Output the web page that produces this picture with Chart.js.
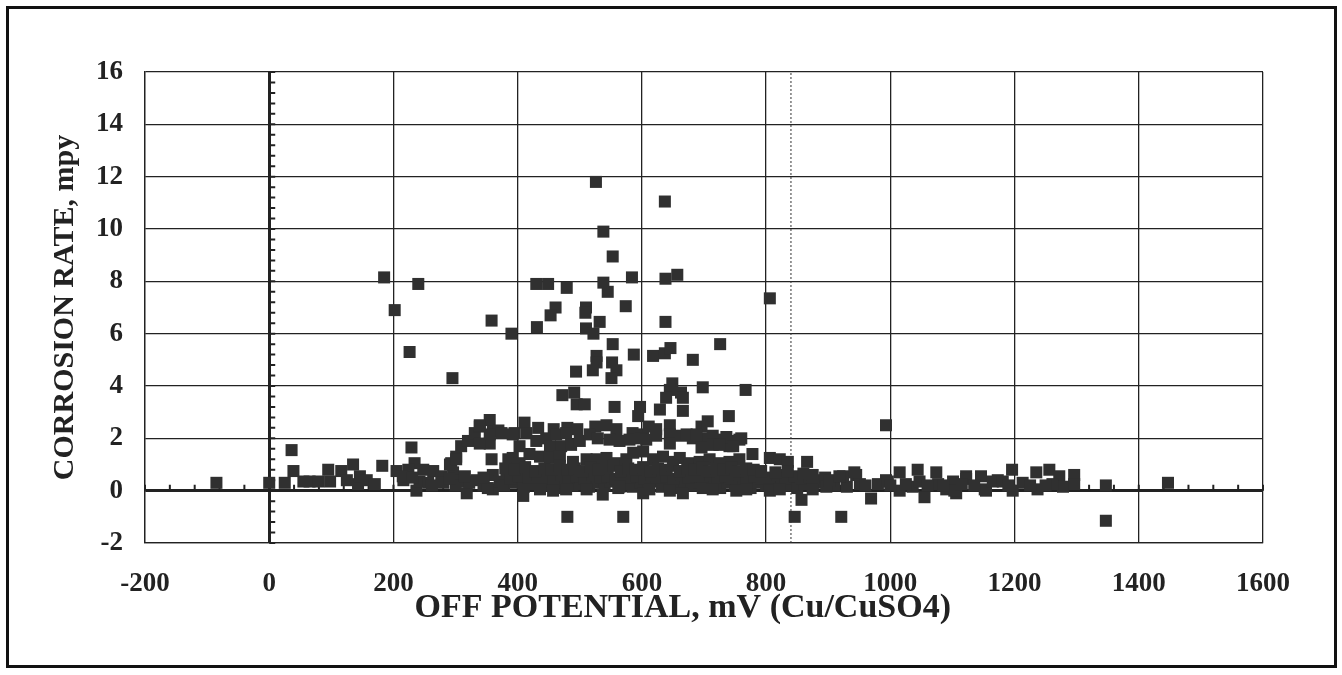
<!DOCTYPE html>
<html>
<head>
<meta charset="utf-8">
<title>Corrosion rate vs off potential</title>
<script src="https://cdn.jsdelivr.net/npm/chart.js@4.4.1/dist/chart.umd.min.js"></script>
<style>
  html, body { margin: 0; padding: 0; background: #fff; }
  #wrap { position: relative; width: 1342px; height: 675px; }
  #frame { position: absolute; left: 6px; top: 6px; width: 1325px; height: 656px; border: 3px solid #111; pointer-events: none; }
</style>
</head>
<body>
<div id="wrap">
  <canvas id="myChart"></canvas>
  <div id="frame"></div>
</div>
<script>
"use strict";

// off potential, mV (Cu/CuSO4) -- one line here matches one line in corrosionRate
const offPotential = [
  -85, 0, 25, 36, 39, 55, 65, 79, 95, 98,
  116, 125, 135, 143, 146, 157, 170, 182,
  // scattered high readings
  185, 202, 226, 240, 295, 358, 390, 526, 637, 538,
  553, 430, 449, 479, 538, 545, 584, 638, 657, 806,
  461, 453, 431, 510, 509, 532, 510, 522, 574, 638,
  553, 587, 618, 637, 646, 682, 726, 527, 527, 521,
  552, 559, 551, 494, 649, 645, 663, 698, 767, 472,
  491, 495, 508, 556, 597, 594, 629, 639, 666, 666,
  740, 993,
  // negative readings
  480, 570, 846, 921, 1347, 857, 969, 1055, 409, 318,
  // 200 - 400 mV
  205, 229, 216, 234, 237, 224, 248, 264, 277, 242,
  256, 293, 301, 309, 320, 331, 339, 355, 360, 369,
  355, 358, 385, 296, 307, 318, 334, 360, 360, 382,
  371, 339, 291, 301, 355, 374, 395, 339,
  // 2.2 - 2.8 mpy
  411, 414, 433, 458, 480, 496, 525, 543, 559, 585,
  602, 611, 623, 645, 696, 706,
  // 1.5 - 2.2 mpy
  392, 403, 430, 446, 462, 478, 452, 470, 486, 500,
  516, 529, 548, 564, 580, 597, 607, 623, 645, 645,
  663, 682, 698, 714, 730, 746, 760, 696, 714, 741,
  672, 688, 736, 757, 725, 747,
  // 1.0 - 1.5 mpy
  392, 403, 419, 436, 452, 468, 489, 511, 527, 543,
  559, 575, 586, 602, 618, 634, 650, 661, 677, 693,
  709, 725, 741, 757, 778, 806, 822, 835, 866,
  // main band, low
  262, 280, 300, 322, 345, 352, 378, 395, 410, 425,
  440, 450, 465, 475, 488, 500, 515, 528, 540, 550,
  562, 575, 585, 598, 610, 620, 632, 645, 656, 668,
  680, 692, 703, 715, 726, 738, 750, 762, 775, 787,
  800, 812, 825, 838, 850, 862, 875, 888, 910, 930,
  // main band, middle
  215, 230, 290, 315, 345, 388, 402, 418, 432, 446,
  458, 470, 482, 495, 507, 520, 533, 545, 557, 568,
  580, 592, 604, 616, 628, 640, 651, 663, 675, 687,
  698, 710, 722, 734, 745, 757, 769, 781, 793, 805,
  818, 831, 845, 858, 870, 885, 895,
  // main band, high
  380, 395, 412, 428, 443, 455, 468, 480, 492, 505,
  518, 530, 542, 555, 566, 578, 590, 602, 614, 626,
  638, 650, 661, 673, 685, 697, 708, 720, 732, 744,
  756, 768, 780, 792, 815, 835, 860,
  // around zero
  436, 457, 478, 511, 537, 564, 602, 612, 645, 666,
  698, 714, 752, 768, 806, 822, 875, 897,
  // above 870 mV
  875, 902, 924, 945, 993, 1015, 1044, 1074, 1015, 1036,
  1090, 1106, 1122, 1146, 1154, 1173, 1196, 1197, 1235, 1256,
  1272, 1237, 1278, 1296, 1296, 918, 942, 951, 980, 996,
  1047, 1077, 1101, 1103, 1122, 1152, 1165, 1181, 1213, 1261,
  960, 1000, 1025, 1060, 1085, 1115, 1135, 1190, 1225, 1250,
  1347, 1447
];

// corrosion rate, mpy
const corrosionRate = [
  0.3, 0.3, 0.3, 1.55, 0.75, 0.35, 0.35, 0.35, 0.8, 0.35,
  0.75, 0.4, 1.0, 0.25, 0.55, 0.4, 0.25, 0.95,
  8.15, 6.9, 5.3, 7.9, 4.3, 6.5, 6.0, 11.8, 11.05, 9.9,
  8.95, 7.9, 7.9, 7.75, 7.95, 7.6, 8.15, 8.1, 8.25, 7.35,
  7.0, 6.7, 6.25, 7.0, 6.8, 6.45, 6.2, 6.0, 7.05, 6.45,
  5.6, 5.2, 5.15, 5.25, 5.45, 5.0, 5.6, 5.15, 4.9, 4.6,
  4.9, 4.6, 4.3, 4.55, 4.1, 3.85, 3.75, 3.95, 3.85, 3.65,
  3.75, 3.3, 3.3, 3.2, 3.2, 2.85, 3.1, 3.55, 3.55, 3.05,
  2.85, 2.5,
  -1.0, -1.0, -1.0, -1.0, -1.15, -0.35, -0.3, -0.25, -0.2, -0.1,
  0.75, 1.65, 0.4, 1.05, 0.0, 0.8, 0.8, 0.75, 0.55, 0.35,
  0.3, 1.05, 1.3, 1.7, 1.9, 2.2, 2.45, 2.7, 2.25, 2.3,
  1.8, 1.2, 1.2, 0.7, 0.4, 0.35, 0.4, 0.05, 0.6, 0.6,
  0.35, 1.8, 1.0, 1.2, 2.15, 2.2, 2.2, 2.5,
  2.6, 2.2, 2.4, 2.35, 2.4, 2.35, 2.45, 2.5, 2.35, 2.2,
  2.15, 2.45, 2.35, 2.5, 2.45, 2.65,
  2.15, 1.7, 1.9, 2.0, 2.15, 2.2, 1.7, 1.7, 1.75, 1.9,
  2.15, 2.0, 1.95, 1.9, 1.95, 2.0, 1.95, 2.1, 2.15, 1.8,
  2.1, 2.0, 2.0, 2.1, 1.95, 1.9, 2.0, 1.65, 1.75, 1.7,
  2.15, 2.15, 2.05, 1.95, 1.75, 1.7,
  1.25, 1.05, 1.4, 1.3, 1.25, 1.3, 1.1, 1.2, 1.2, 1.25,
  1.05, 1.2, 1.45, 1.5, 1.2, 1.3, 1.1, 1.25, 1.05, 1.1,
  1.2, 1.05, 1.1, 1.2, 1.4, 1.25, 1.2, 1.1, 1.1,
  0.2, 0.3, 0.2, 0.3, 0.2, 0.1, 0.2, 0.3, 0.15, 0.25,
  0.2, 0.35, 0.1, 0.3, 0.2, 0.25, 0.15, 0.3, 0.2, 0.35,
  0.1, 0.25, 0.15, 0.3, 0.2, 0.35, 0.15, 0.25, 0.1, 0.3,
  0.2, 0.3, 0.15, 0.25, 0.1, 0.3, 0.2, 0.25, 0.1, 0.3,
  0.2, 0.15, 0.3, 0.2, 0.1, 0.25, 0.2, 0.3, 0.2, 0.15,
  0.55, 0.5, 0.45, 0.55, 0.5, 0.45, 0.55, 0.5, 0.6, 0.5,
  0.45, 0.6, 0.5, 0.55, 0.45, 0.6, 0.5, 0.55, 0.45, 0.6,
  0.5, 0.55, 0.45, 0.6, 0.5, 0.55, 0.45, 0.6, 0.5, 0.55,
  0.45, 0.6, 0.5, 0.55, 0.45, 0.6, 0.5, 0.55, 0.45, 0.5,
  0.6, 0.45, 0.55, 0.45, 0.5, 0.4, 0.5,
  0.85, 0.8, 0.9, 0.75, 0.85, 0.8, 0.95, 0.8, 0.85, 0.75,
  0.9, 0.8, 0.85, 0.95, 0.75, 0.85, 0.8, 0.9, 0.75, 0.85,
  0.8, 0.95, 0.75, 0.85, 0.8, 0.9, 0.75, 0.85, 0.8, 0.9,
  0.75, 0.85, 0.8, 0.75, 0.7, 0.75, 0.65,
  0.05, 0.0, 0.05, 0.05, -0.15, 0.15, -0.1, 0.05, 0.0, -0.1,
  0.1, 0.05, 0.0, 0.05, 0.0, 0.05, 0.05, 0.15,
  0.6, 0.4, 0.55, 0.6, 0.4, 0.7, 0.8, 0.7, 0.0, 0.15,
  0.05, -0.1, 0.55, 0.55, 0.0, 0.4, 0.8, 0.0, 0.7, 0.8,
  0.55, 0.05, 0.15, 0.6, 0.25, 0.55, 0.7, 0.25, 0.25, 0.35,
  0.35, 0.25, 0.35, 0.0, 0.45, 0.05, 0.35, 0.35, 0.3, 0.25,
  0.2, 0.2, 0.25, 0.2, 0.2, 0.25, 0.2, 0.2, 0.2, 0.2,
  0.2, 0.3
];

// axes
const xMin = -200, xMax = 1600, xStep = 200, xMinorStep = 40;
const yMin = -2, yMax = 16, yStep = 2, yMinorStep = 0.4;
const criterionPotential = 840; // dotted line

const xTitle = "OFF POTENTIAL, mV (Cu/CuSO4)";
const yTitle = "CORROSION RATE, mpy";

const ink = "#222";
const serif = "'Liberation Serif', 'Times New Roman', serif";

window.addEventListener("DOMContentLoaded", makeChart);

// little tick marks along the bold zero lines
const zeroAxisTicks = {
  id: "zeroAxisTicks",
  beforeDatasetsDraw(chart) {
    const ctx = chart.ctx;
    const x = chart.scales.x;
    const y = chart.scales.y;
    const x0 = x.getPixelForValue(0);
    const y0 = y.getPixelForValue(0);
    ctx.save();
    ctx.strokeStyle = ink;
    ctx.lineWidth = 2;
    ctx.beginPath();
    for (let v = xMin; v <= xMax; v += xMinorStep) {
      let px = x.getPixelForValue(v);
      ctx.moveTo(px, y0);
      ctx.lineTo(px, y0 - 6);
    }
    for (let i = 0; yMin + i * yMinorStep <= yMax + 1e-9; i++) {
      let py = y.getPixelForValue(yMin + i * yMinorStep);
      ctx.moveTo(x0, py);
      ctx.lineTo(x0 + 6, py);
    }
    ctx.stroke();
    ctx.restore();
  }
};

function plainNumber(value) {
  return String(value);
}

function makeChart() {
  let points = offPotential.map((v, i) => ({ x: v, y: corrosionRate[i] }));

  let ctx = document.getElementById("myChart");

  let myChart = new Chart(ctx, {
    type: "scatter",
    data: {
      datasets: [
        {
          label: "Corrosion rate",
          data: points,
          pointStyle: "rect",
          pointRadius: 8.5,
          pointHoverRadius: 8.5,
          backgroundColor: "#303030",
          borderWidth: 0
        },
        {
          type: "line",
          label: "criterion",
          data: [
            { x: criterionPotential, y: yMin },
            { x: criterionPotential, y: yMax }
          ],
          borderColor: "#333",
          borderWidth: 1,
          borderDash: [2, 2],
          pointRadius: 0,
          fill: false
        }
      ]
    },
    options: {
      responsive: true,
      maintainAspectRatio: false,
      animation: false,
      layout: {
        padding: { top: 72, right: 79, bottom: 0, left: 0 }
      },
      plugins: {
        legend: { display: false },
        tooltip: { enabled: false }
      },
      scales: {
        x: {
          type: "linear",
          min: xMin,
          max: xMax,
          afterFit: s => { s.height = 132; },
          ticks: {
            stepSize: xStep,
            padding: 25,
            color: ink,
            callback: plainNumber,
            font: { family: serif, weight: "bold", size: 27 }
          },
          grid: {
            color: ink,
            lineWidth: c => (c.tick && c.tick.value === 0 ? 3 : 1.3),
            drawTicks: false
          },
          border: { color: ink, width: 1.3 },
          title: {
            display: true,
            text: xTitle + "     ",
            color: ink,
            font: { family: serif, weight: "bold", size: 34 },
            padding: { top: 0, bottom: 46 }
          }
        },
        y: {
          min: yMin,
          max: yMax,
          afterFit: s => { s.width = 145; },
          ticks: {
            stepSize: yStep,
            padding: 22,
            color: ink,
            callback: plainNumber,
            font: { family: serif, weight: "bold", size: 27 }
          },
          grid: {
            color: ink,
            lineWidth: c => (c.tick && c.tick.value === 0 ? 3 : 1.3),
            drawTicks: false
          },
          border: { color: ink, width: 1.3 },
          title: {
            display: true,
            text: yTitle,
            color: ink,
            font: { family: serif, weight: "bold", size: 30 },
            padding: { top: 47, bottom: 0 }
          }
        }
      }
    },
    plugins: [zeroAxisTicks]
  });
}
</script>
</body>
</html>
